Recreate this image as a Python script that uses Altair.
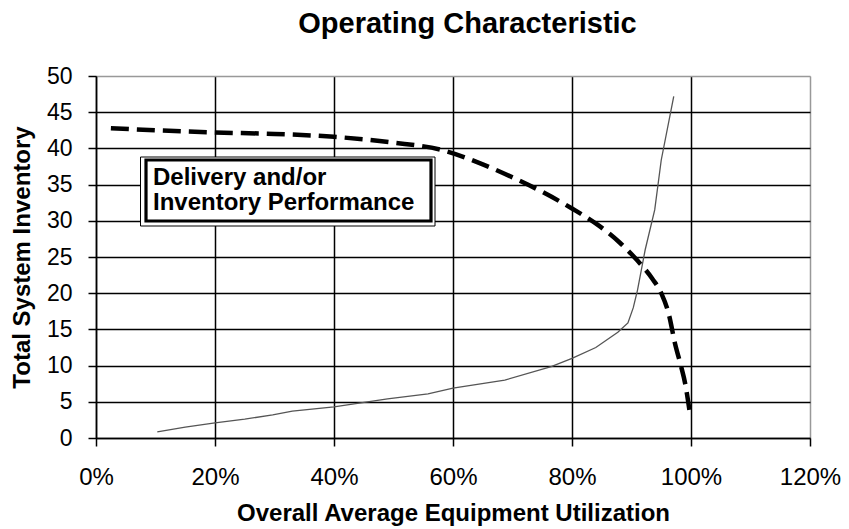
import altair as alt
import pandas as pd

# Dashed curve: Delivery and/or Inventory Performance (utilization %, inventory)
perf_x = [2.5, 10, 20, 30, 40, 50, 58, 65, 70, 75, 80, 84.4, 88, 91, 93.5, 95, 96.3, 97.3, 98.3, 99, 99.8]
perf_y = [42.8, 42.5, 42.2, 42.0, 41.6, 40.8, 39.8, 37.8, 36.0, 34.0, 31.7, 29.4, 27.0, 24.5, 22.0, 20.0, 17.0, 13.1, 10.0, 7.6, 3.5]

# Solid curve: operating characteristic
oc_x = [10.3, 15, 20, 25, 29.7, 33, 40, 49, 55.8, 60, 68.7, 76.5, 80, 84, 87.7, 89.4, 90.3, 91, 92.3, 93.9, 95, 97.1]
oc_y = [0.85, 1.5, 2.1, 2.6, 3.2, 3.7, 4.3, 5.4, 6.1, 6.9, 8.0, 9.85, 11.0, 12.5, 14.6, 15.9, 18.0, 20.4, 26.0, 31.5, 38.4, 47.2]

x_ticks = [0, 20, 40, 60, 80, 100, 120]
y_ticks = [0, 5, 10, 15, 20, 25, 30, 35, 40, 45, 50]

chart_title = "Operating Characteristic"
box_lines = ["Delivery and/or", "Inventory Performance"]

FONT = "Liberation Sans"

perf_df = pd.DataFrame({"u": perf_x, "inv": perf_y, "order": range(len(perf_x))})
oc_df = pd.DataFrame({"u": oc_x, "inv": oc_y, "order": range(len(oc_x))})
one = pd.DataFrame({"a": [0]})

xscale = alt.Scale(domain=[0, 120], nice=False, zero=False)
yscale = alt.Scale(domain=[0, 50], nice=False, zero=False)

grid_color = {"condition": {"test": "datum.value >= 120", "value": "#999999"}, "value": "black"}
grid_color_y = {"condition": {"test": "datum.value >= 50", "value": "#999999"}, "value": "black"}

xaxis = alt.Axis(
    title="Overall Average Equipment Utilization",
    values=x_ticks,
    labelExpr="datum.value + '%'",
    labelOverlap=False, labelFlush=False,
    grid=True, gridColor=grid_color, gridWidth=1.5, gridOpacity=1,
    domain=True, domainColor="black", domainWidth=1.5,
    ticks=True, tickSize=8, tickColor="black", tickWidth=1.5,
    labelFont=FONT, labelFontSize=24, labelColor="black", labelPadding=19,
    titleFont=FONT, titleFontSize=24, titleFontWeight="bold", titleColor="black",
    titlePadding=12,
)
yaxis = alt.Axis(
    title="Total System Inventory",
    values=y_ticks,
    labelOverlap=False, labelFlush=False,
    grid=True, gridColor=grid_color_y, gridWidth=1.5, gridOpacity=1,
    domain=True, domainColor="black", domainWidth=1.5,
    ticks=True, tickSize=8, tickColor="black", tickWidth=1.5,
    labelFont=FONT, labelFontSize=23, labelColor="black", labelPadding=16,
    titleFont=FONT, titleFontSize=24, titleFontWeight="bold", titleColor="black",
    titlePadding=12,
)

X = alt.X("u:Q", scale=xscale, axis=xaxis)
Y = alt.Y("inv:Q", scale=yscale, axis=yaxis)

outer_box = alt.Chart(one).mark_rect(fill="white", stroke="black", strokeWidth=1).encode(
    x=alt.value(44.5), x2=alt.value(339), y=alt.value(81), y2=alt.value(150)
)
inner_box = alt.Chart(one).mark_rect(fill=None, stroke="black", strokeWidth=3.2).encode(
    x=alt.value(50), x2=alt.value(335), y=alt.value(84), y2=alt.value(145)
)
box_text = alt.Chart(one).mark_text(
    text=box_lines, align="left", baseline="alphabetic", font=FONT, fontSize=24,
    fontWeight="bold", color="black", lineHeight=25
).encode(x=alt.value(57), y=alt.value(109))

title_text = alt.Chart(one).mark_text(
    text=chart_title, align="center", baseline="alphabetic", font=FONT, fontSize=29,
    fontWeight="bold", color="black"
).encode(x=alt.value(371.5), y=alt.value(-43))

oc_line = alt.Chart(oc_df).mark_line(color="#555555", strokeWidth=1.3).encode(
    x=X, y=Y, order="order:Q",
)
perf_line = alt.Chart(perf_df).mark_line(
    color="black", strokeWidth=4.5, strokeDash=[18, 8], interpolate="monotone"
).encode(
    x=X, y=Y, order="order:Q",
)

chart = alt.layer(oc_line, outer_box, inner_box, box_text, perf_line, title_text).properties(
    width=714,
    height=362,
    autosize=alt.AutoSizeParams(type="none"),
    padding={"left": 88, "top": 68, "right": 31, "bottom": 90},
).configure_view(stroke="#999999", strokeWidth=1.5).configure(background="white")

chart.save("out.html", embed_options={"renderer": "svg", "actions": False})
